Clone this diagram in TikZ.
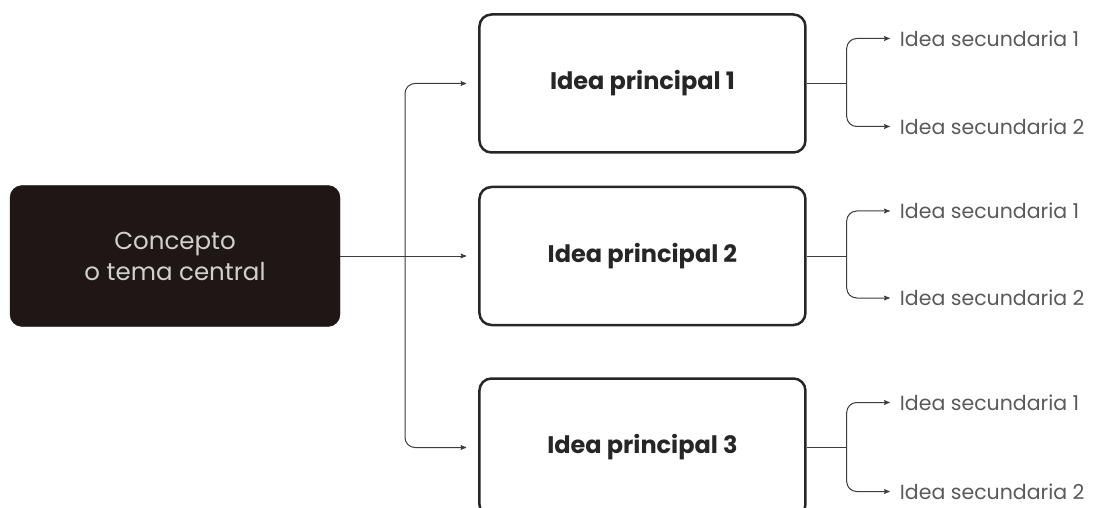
\documentclass[tikz,border=0pt]{standalone}
\usepackage{fontspec}
\setmainfont{Poppins}
\usetikzlibrary{arrows,positioning}
\definecolor{fondo}{HTML}{1E1715}
\definecolor{claro}{HTML}{D2D0CE}
\definecolor{borde}{HTML}{262626}
\definecolor{linea}{HTML}{3C3C3C}
\definecolor{gris}{HTML}{5A5A5A}

\begin{document}
\begin{tikzpicture}[x=1pt,y=-1pt,>=stealth',
                    central/.style={rectangle,rounded corners=12pt,fill=fondo,draw=fondo,text=claro,
                      minimum width=330pt,minimum height=141pt,align=center,font=\fontsize{24.5}{31}\selectfont},
                    principal/.style={rectangle,rounded corners=12pt,draw=borde,line width=2.5pt,text=borde,
                      minimum width=326pt,minimum height=138pt,font=\bfseries\fontsize{24}{28}\selectfont},
                    secundaria/.style={anchor=west,inner sep=3pt,text=gris,font=\fontsize{20.5}{24}\selectfont},
                    flecha/.style={->,draw=linea,line width=1pt,rounded corners=10pt}]

  \useasboundingbox (0,0) rectangle (1096,508);

  \node[central] (concepto) at (175,256) {Concepto\\o tema central};
  \node[principal] (p2) [right=138pt of concepto] {Idea principal 2};
  \node[principal] (p1) [above=32pt of p2] {Idea principal 1};
  \node[principal] (p3) [below=51pt of p2] {Idea principal 3};

  \node[secundaria] (s11) at ([xshift=90pt,yshift=45pt]p1.east) {Idea secundaria 1};
  \node[secundaria] (s12) at ([xshift=90pt,yshift=-43pt]p1.east) {Idea secundaria 2};
  \node[secundaria] (s21) at ([xshift=90pt,yshift=45pt]p2.east) {Idea secundaria 1};
  \node[secundaria] (s22) at ([xshift=90pt,yshift=-42pt]p2.east) {Idea secundaria 2};
  \node[secundaria] (s31) at ([xshift=90pt,yshift=45pt]p3.east) {Idea secundaria 1};
  \node[secundaria] (s32) at ([xshift=90pt,yshift=-44pt]p3.east) {Idea secundaria 2};

  % del concepto a las ideas principales
  \coordinate (tronco) at (405,256);
  \draw[flecha,shorten >=12pt] (concepto.east) -- (p2.west);
  \draw[flecha,shorten >=12pt] (tronco) |- (p1.west);
  \draw[flecha,shorten >=12pt] (tronco) |- (p3.west);

  % ramas hacia las ideas secundarias
  \coordinate (r1) at ([xshift=40pt]p1.east);
  \coordinate (r2) at ([xshift=40pt]p2.east);
  \coordinate (r3) at ([xshift=40pt]p3.east);
  \draw[linea,line width=1pt] (p1.east) -- (r1);
  \draw[linea,line width=1pt] (p2.east) -- (r2);
  \draw[linea,line width=1pt] (p3.east) -- (r3);
  \draw[flecha,shorten >=7pt] (r1) |- (s11.west);
  \draw[flecha,shorten >=7pt] (r1) |- (s12.west);
  \draw[flecha,shorten >=7pt] (r2) |- (s21.west);
  \draw[flecha,shorten >=7pt] (r2) |- (s22.west);
  \draw[flecha,shorten >=7pt] (r3) |- (s31.west);
  \draw[flecha,shorten >=7pt] (r3) |- (s32.west);
\end{tikzpicture}
\end{document}
